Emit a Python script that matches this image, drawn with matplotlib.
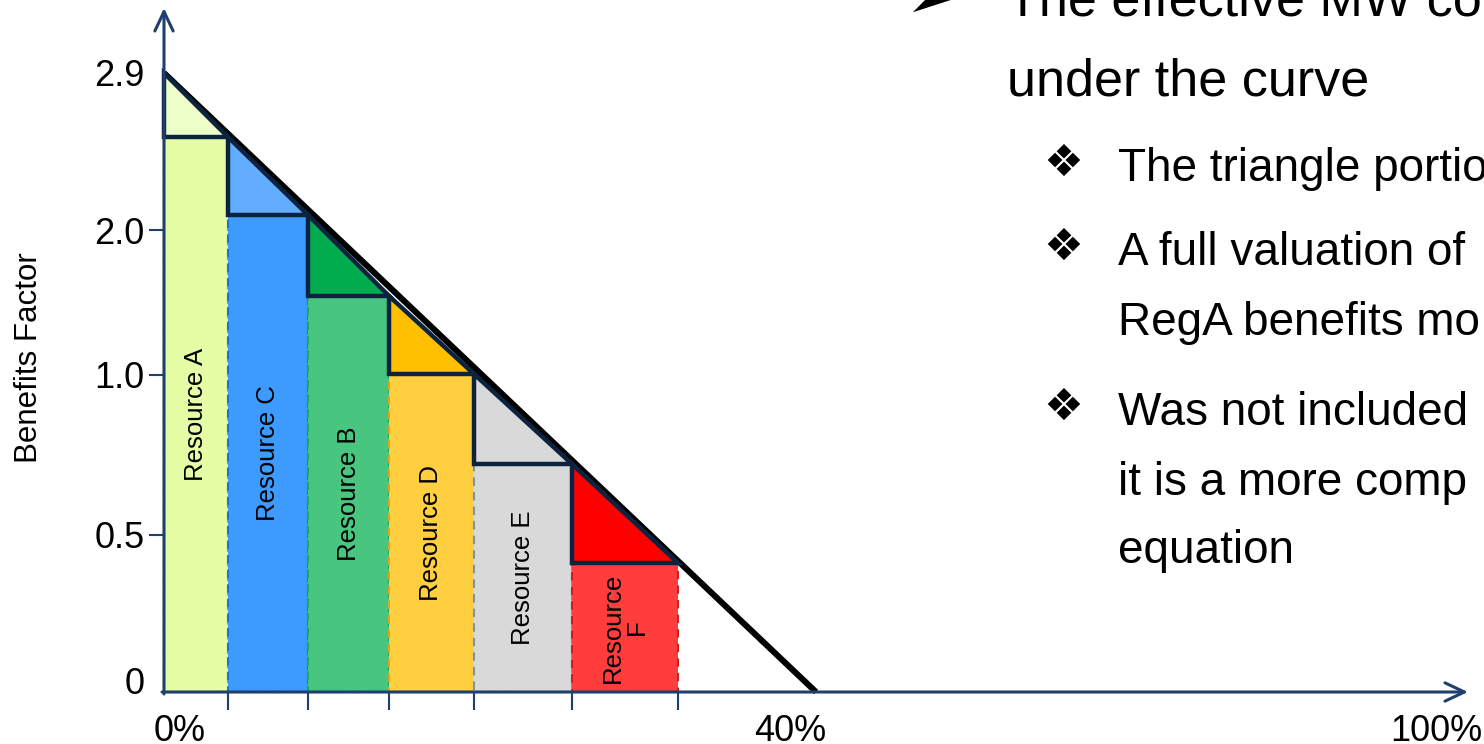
import matplotlib
matplotlib.use("Agg")
import matplotlib.pyplot as plt
from matplotlib import font_manager

plt.rcParams['font.family'] = ['Liberation Sans', 'DejaVu Sans']

# chart units: x = horizontal distance from the y axis, y = height above the x axis
resources = ["Resource A", "Resource C", "Resource B", "Resource D", "Resource E", "Resource\nF"]
bar_edges = [0, 64, 144, 225, 310, 408, 514]
step_heights = [555, 477, 396, 318, 228, 129]
curve_top = 619
curve_end = 652
bar_colors = ["#E5FEA6", "#3D9AFF", "#48C67F", "#FFCF40", "#D9D9D9", "#FF3D3D"]
edge_colors = ["#7FA060", "#1E74D0", "#1AAA5E", "#D9A820", "#7F93A8", "#CC1F1F"]
tri_colors = ["#EEFEC8", "#62ADFF", "#00AC4E", "#FFC000", "#D9D9D9", "#FF0000"]

ytick_pos = [619, 462, 317, 157, 12]
ytick_labels = ["2.9", "2.0", "1.0", "0.5", "0"]
ytick_marks = [462, 317, 157]
xtick_pos = [16, 626, 1272]
xtick_labels = ["0%", "40%", "100%"]

bullets = [["The triangle portio"],
           ["A full valuation of", "RegA benefits mo"],
           ["Was not included", "it is a more comp", "equation"]]
bullet_baselines = [[181], [265, 335], [425, 495, 563]]

navy = "#1F3F6E"
outline = "#0C2340"

names = {f.name for f in font_manager.fontManager.ttflist}
narrow = 'Liberation Sans Narrow' if 'Liberation Sans Narrow' in names else None

fig = plt.figure(figsize=(14.84, 7.44), dpi=100)
ax = fig.add_axes([0, 0, 1, 1])
ax.set_xlim(-164, 1320)
ax.set_ylim(-52, 692)
ax.set_facecolor('white')
for s in ax.spines.values():
    s.set_visible(False)
ax.spines['left'].set_position(('data', 0))
ax.spines['bottom'].set_position(('data', 0))

# bars
widths = [bar_edges[i + 1] - bar_edges[i] for i in range(len(step_heights))]
for i in range(len(step_heights)):
    ax.bar(bar_edges[i], step_heights[i], width=widths[i], align='edge',
           color=bar_colors[i], edgecolor=edge_colors[i], linestyle=(0, (4, 3)),
           linewidth=1.5, zorder=2)
    ax.text(bar_edges[i] + widths[i] / 2, step_heights[i] / 2, resources[i],
            rotation=90, ha='center', va='center', fontsize=18.5,
            linespacing=1.0, zorder=6)

# diagonal benefit curve
ax.plot([0, curve_end], [curve_top, 0], color='black', lw=4.4,
        solid_capstyle='butt', zorder=3)

# triangle portions
prev = curve_top
for i in range(len(step_heights)):
    x0, x1 = bar_edges[i], bar_edges[i + 1]
    h = step_heights[i]
    ax.fill([x0, x0, x1], [prev, h, h], facecolor=tri_colors[i],
            edgecolor=outline, lw=3.2, joinstyle='miter', zorder=4)
    prev = h

# axes with open arrowheads
arrow = dict(arrowstyle='->,head_length=0.7,head_width=0.33', mutation_scale=20,
             color=navy, lw=2.2, shrinkA=0, shrinkB=0)
ax.annotate('', xy=(0, 684), xytext=(0, -2), arrowprops=arrow, zorder=5)
ax.annotate('', xy=(1304, 0), xytext=(-2, 0), arrowprops=arrow, zorder=5)

ax.yaxis.remove_overlapping_locs = False
ax.set_yticks(ytick_pos, ytick_labels, fontsize=26)
ax.set_yticks(ytick_marks, minor=True)
ax.tick_params(axis='y', which='major', length=0, pad=14)
ax.tick_params(axis='y', which='minor', length=21, width=1.5, direction='inout', color=navy)
ax.set_xticks(xtick_pos, xtick_labels, fontsize=26)
ax.set_xticks(bar_edges[1:], minor=True)
ax.tick_params(axis='x', which='major', length=0, pad=16)
ax.tick_params(axis='x', which='minor', length=13, width=1.5, direction='out', color=navy)

ax.text(-135, 334, "Benefits Factor", rotation=90, ha='center', va='center', fontsize=22.5)

# slide text on the right
fam = [narrow, 'DejaVu Sans'] if narrow else ['Liberation Sans', 'DejaVu Sans']
big = 46 if narrow else 37.5
small = 41 if narrow else 33
ax.text(905 - 164, 692 - 18, "\u27a2", fontsize=44, family=['DejaVu Sans'],
        ha='left', va='baseline')
ax.text(1007 - 164, 692 - 16, "The effective MW co", fontsize=big, family=fam,
        ha='left', va='baseline')
ax.text(1007 - 164, 692 - 96, "under the curve", fontsize=big, family=fam,
        ha='left', va='baseline')
for lines, bases in zip(bullets, bullet_baselines):
    ax.text(1063 - 164, 692 - bases[0] + 18, "\u2756", fontsize=32,
            family=['DejaVu Sans'], ha='center', va='center')
    for line, b in zip(lines, bases):
        ax.text(1118 - 164, 692 - b, line, fontsize=small, family=fam,
                ha='left', va='baseline')

fig.savefig("out.png", dpi=100, facecolor='white')
